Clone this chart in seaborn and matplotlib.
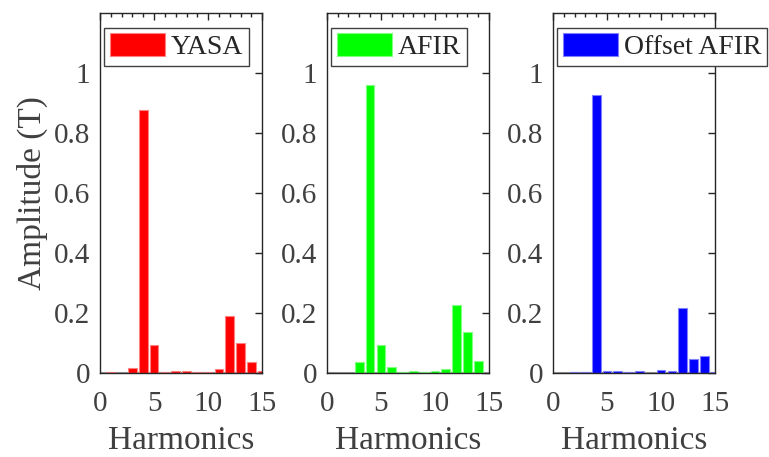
import numpy as np
import pandas as pd
import matplotlib
matplotlib.use("Agg")
import matplotlib.pyplot as plt
from matplotlib.ticker import MultipleLocator
import seaborn as sns

sns.set_style("white")
plt.rcParams['font.family'] = ['Liberation Serif', 'DejaVu Serif']

harmonics = list(range(1, 16))
yasa = [0.002, 0.001, 0.018, 0.875, 0.092, 0.003, 0.007, 0.007, 0.003, 0.003,
        0.012, 0.19, 0.101, 0.038, 0.005]
afir = [0.001, 0.001, 0.038, 0.96, 0.092, 0.019, 0.002, 0.006, 0.002, 0.006,
        0.014, 0.225, 0.135, 0.039, 0.001]
offset_afir = [0.001, 0.003, 0.002, 0.925, 0.006, 0.008, 0.002, 0.006, 0.001, 0.009,
               0.006, 0.215, 0.048, 0.058, 0.004]

series = [("YASA", yasa, "#ff0000", "#ff8080"),
          ("AFIR", afir, "#00ff00", "#80ff80"),
          ("Offset AFIR", offset_afir, "#0000ff", "#8080ff")]

txt = "#404040"
fig = plt.figure(figsize=(7.69, 4.57), dpi=100)
lefts = [0.130, 0.425, 0.719]

for i, (name, vals, col, edge) in enumerate(series):
    ax = fig.add_axes([lefts[i], 0.184, 0.211, 0.788])
    df = pd.DataFrame({"h": harmonics, "amp": vals})
    ax.axhline(0, color="#a0a0a0", lw=1.5, zorder=1)
    sns.barplot(data=df, x="h", y="amp", native_scale=True, color=col,
                width=0.8, saturation=1, edgecolor=edge, linewidth=0.8,
                label=name, ax=ax, zorder=2)
    ax.set_xlim(0, 15)
    ax.set_ylim(0, 1.2)
    ax.set_xticks([0, 5, 10, 15])
    ax.xaxis.set_minor_locator(MultipleLocator(1))
    ax.set_yticks([0, 0.2, 0.4, 0.6, 0.8, 1])
    ax.set_yticklabels(["0", "0.2", "0.4", "0.6", "0.8", "1"])
    ax.tick_params(axis="both", which="both", direction="in", top=True, right=True,
                   labelsize=21, labelcolor=txt, color="#262626", width=1)
    ax.tick_params(which="major", length=5)
    ax.tick_params(which="minor", length=3)
    ax.tick_params(axis="x", pad=13)
    ax.tick_params(axis="y", pad=7)
    for s in ax.spines.values():
        s.set_color("#262626")
        s.set_linewidth(1)
    ax.set_xlabel("Harmonics", fontsize=24, color=txt, labelpad=6)
    if i == 0:
        ax.set_ylabel("Amplitude (T)", fontsize=24, color=txt, labelpad=4)
    else:
        ax.set_ylabel("")
    leg = ax.legend(loc="upper left", bbox_to_anchor=(0.0, 0.97), fontsize=20,
                    handlelength=2.0, handleheight=0.9, handletextpad=0.2,
                    borderpad=0.2, borderaxespad=0.15, fancybox=False,
                    framealpha=1, edgecolor="#404040")
    leg.get_frame().set_linewidth(1)

plt.savefig("out.png", dpi=100)
